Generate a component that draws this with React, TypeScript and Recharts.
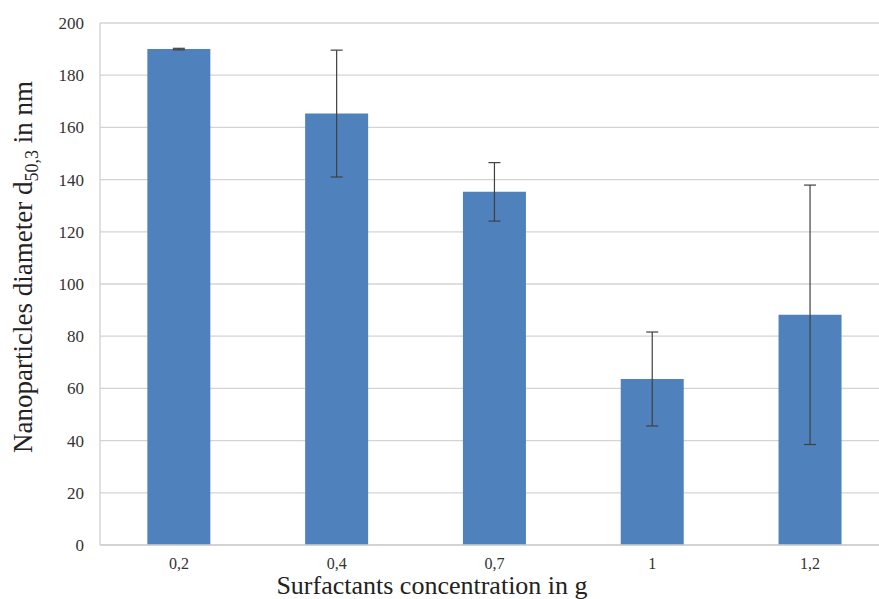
import React from 'react';
import { BarChart, Bar, XAxis, YAxis, CartesianGrid, ErrorBar } from 'recharts';

const concentrations = ['0,2', '0,4', '0,7', '1', '1,2'];
const diameters = [190, 165.3, 135.3, 63.6, 88.2];
const deviations = [0.3, 24.3, 11.2, 18, 49.7];
const yTicks = [0, 20, 40, 60, 80, 100, 120, 140, 160, 180, 200];

const data = concentrations.map((name, i) => ({
  name,
  d50: diameters[i],
  err: deviations[i],
}));

const serif = "'Liberation Serif', 'DejaVu Serif', serif";

const YTitle = () => (
  <text
    x={32}
    y={267}
    transform="rotate(-90, 32, 267)"
    textAnchor="middle"
    style={{ fontFamily: serif }}
    fontSize={27}
    fill="#222"
  >
    Nanoparticles diameter d
    <tspan fontSize={18} dy={6}>50,3</tspan>
    <tspan dy={-6}> in nm</tspan>
  </text>
);

const XTitle = () => (
  <text x={432} y={594} textAnchor="middle" style={{ fontFamily: serif }} fontSize={26} fill="#222">
    Surfactants concentration in g
  </text>
);

const App: React.FC = () => {
  return (
    <div
      style={{
        position: 'absolute',
        left: 0,
        top: 0,
        width: 879,
        height: 599,
        overflow: 'hidden',
        background: '#fff',
        fontFamily: serif,
      }}
    >
      <BarChart
        width={900}
        height={599}
        data={data}
        margin={{ top: 23, right: 11, left: 0, bottom: 0 }}
        barCategoryGap="30%"
        style={{ fontFamily: serif }}
      >
        <CartesianGrid vertical={false} stroke="#d4d4d4" strokeWidth={1.3} />
        <XAxis
          dataKey="name"
          height={54}
          tickLine={false}
          tickSize={0}
          tickMargin={13}
          axisLine={{ stroke: '#cfcfcf', strokeWidth: 1.3 }}
          tick={{ fontSize: 16, fill: '#333', fontFamily: serif }}
        />
        <YAxis
          width={100}
          domain={[0, 200]}
          ticks={yTicks}
          tickLine={false}
          tickSize={0}
          tickMargin={16}
          axisLine={{ stroke: '#cfcfcf', strokeWidth: 1.3 }}
          tick={{ fontSize: 17, fill: '#333', fontFamily: serif }}
        />
        <Bar dataKey="d50" fill="#4f81bd" isAnimationActive={false}>
          <ErrorBar dataKey="err" width={6} stroke="#404040" strokeWidth={1.2} direction="y" />
        </Bar>
        <YTitle />
        <XTitle />
      </BarChart>
    </div>
  );
};

export default App;
